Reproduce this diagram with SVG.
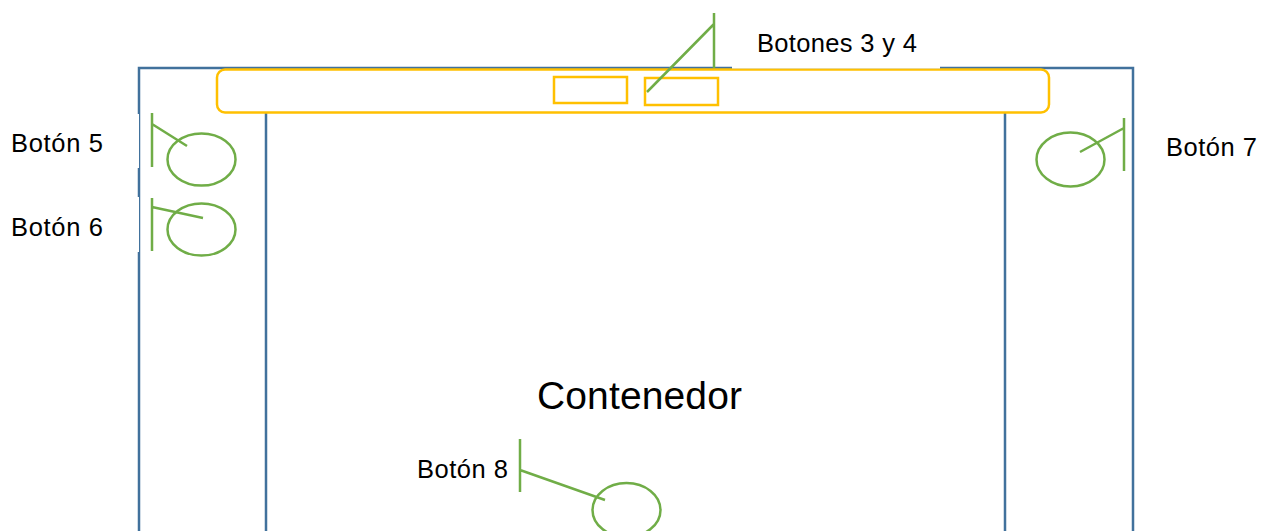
<svg xmlns="http://www.w3.org/2000/svg" width="1262" height="531" viewBox="0 0 1262 531">
<style>
.blue{fill:none;stroke:#41719C;stroke-width:2.5}
.yel{fill:none;stroke:#FFC000;stroke-width:2.5}
.grn{fill:none;stroke:#70AD47;stroke-width:2.5}
.lbl{font-family:"Liberation Sans",Arial,sans-serif;font-size:25.5px;fill:#000}
.big{font-family:"Liberation Sans",Arial,sans-serif;font-size:39px;fill:#000}
.mask{fill:#fff}
</style>
<rect width="1262" height="531" fill="#fff"/>
<g id="contenedor">
  <path class="blue" d="M139,540 V68 H1133 V540"/>
  <line class="blue" x1="266" y1="113" x2="266" y2="540"/>
  <line class="blue" x1="1005" y1="113" x2="1005" y2="540"/>
  <text class="big" x="537" y="409" textLength="205">Contenedor</text>
</g>
<g id="barra">
  <rect class="yel" x="217" y="69.5" width="832" height="43" rx="8"/>
  <rect class="yel" x="554" y="77" width="73" height="26"/>
  <rect class="yel" x="645" y="78" width="73" height="27"/>
</g>
<g id="masks">
  <rect class="mask" x="732" y="20" width="208" height="48.5"/>
  <rect class="mask" x="0" y="114" width="139" height="54"/>
  <rect class="mask" x="0" y="197" width="139" height="55"/>
</g>
<g id="boton5">
  <ellipse class="grn" cx="201.5" cy="159.5" rx="34" ry="26"/>
  <text class="lbl" x="11" y="152" textLength="92">Botón 5</text>
</g>
<g id="boton6">
  <ellipse class="grn" cx="201.5" cy="229.5" rx="34" ry="26"/>
  <text class="lbl" x="11" y="236" textLength="92">Botón 6</text>
</g>
<g id="boton7">
  <ellipse class="grn" cx="1070.5" cy="159.5" rx="34" ry="27"/>
  <text class="lbl" x="1166" y="156" textLength="91">Botón 7</text>
</g>
<g id="boton8">
  <ellipse class="grn" cx="626.5" cy="510" rx="34" ry="27"/>
  <text class="lbl" x="417" y="478" textLength="91">Botón 8</text>
</g>
<g id="botones34">
  <text class="lbl" x="757" y="52" textLength="160">Botones 3 y 4</text>
</g>
<g id="connectors">
  <path class="grn" d="M714,13 V68 M714,24 L647,92"/>
  <path class="grn" d="M152,113 V167 M152,124 L187,146"/>
  <path class="grn" d="M152,198 V251 M152,207 L203,218"/>
  <path class="grn" d="M1124,118 V171 M1124,128 L1080,152"/>
  <path class="grn" d="M520,439 V492 M520,470 L605,500"/>
</g>
</svg>
